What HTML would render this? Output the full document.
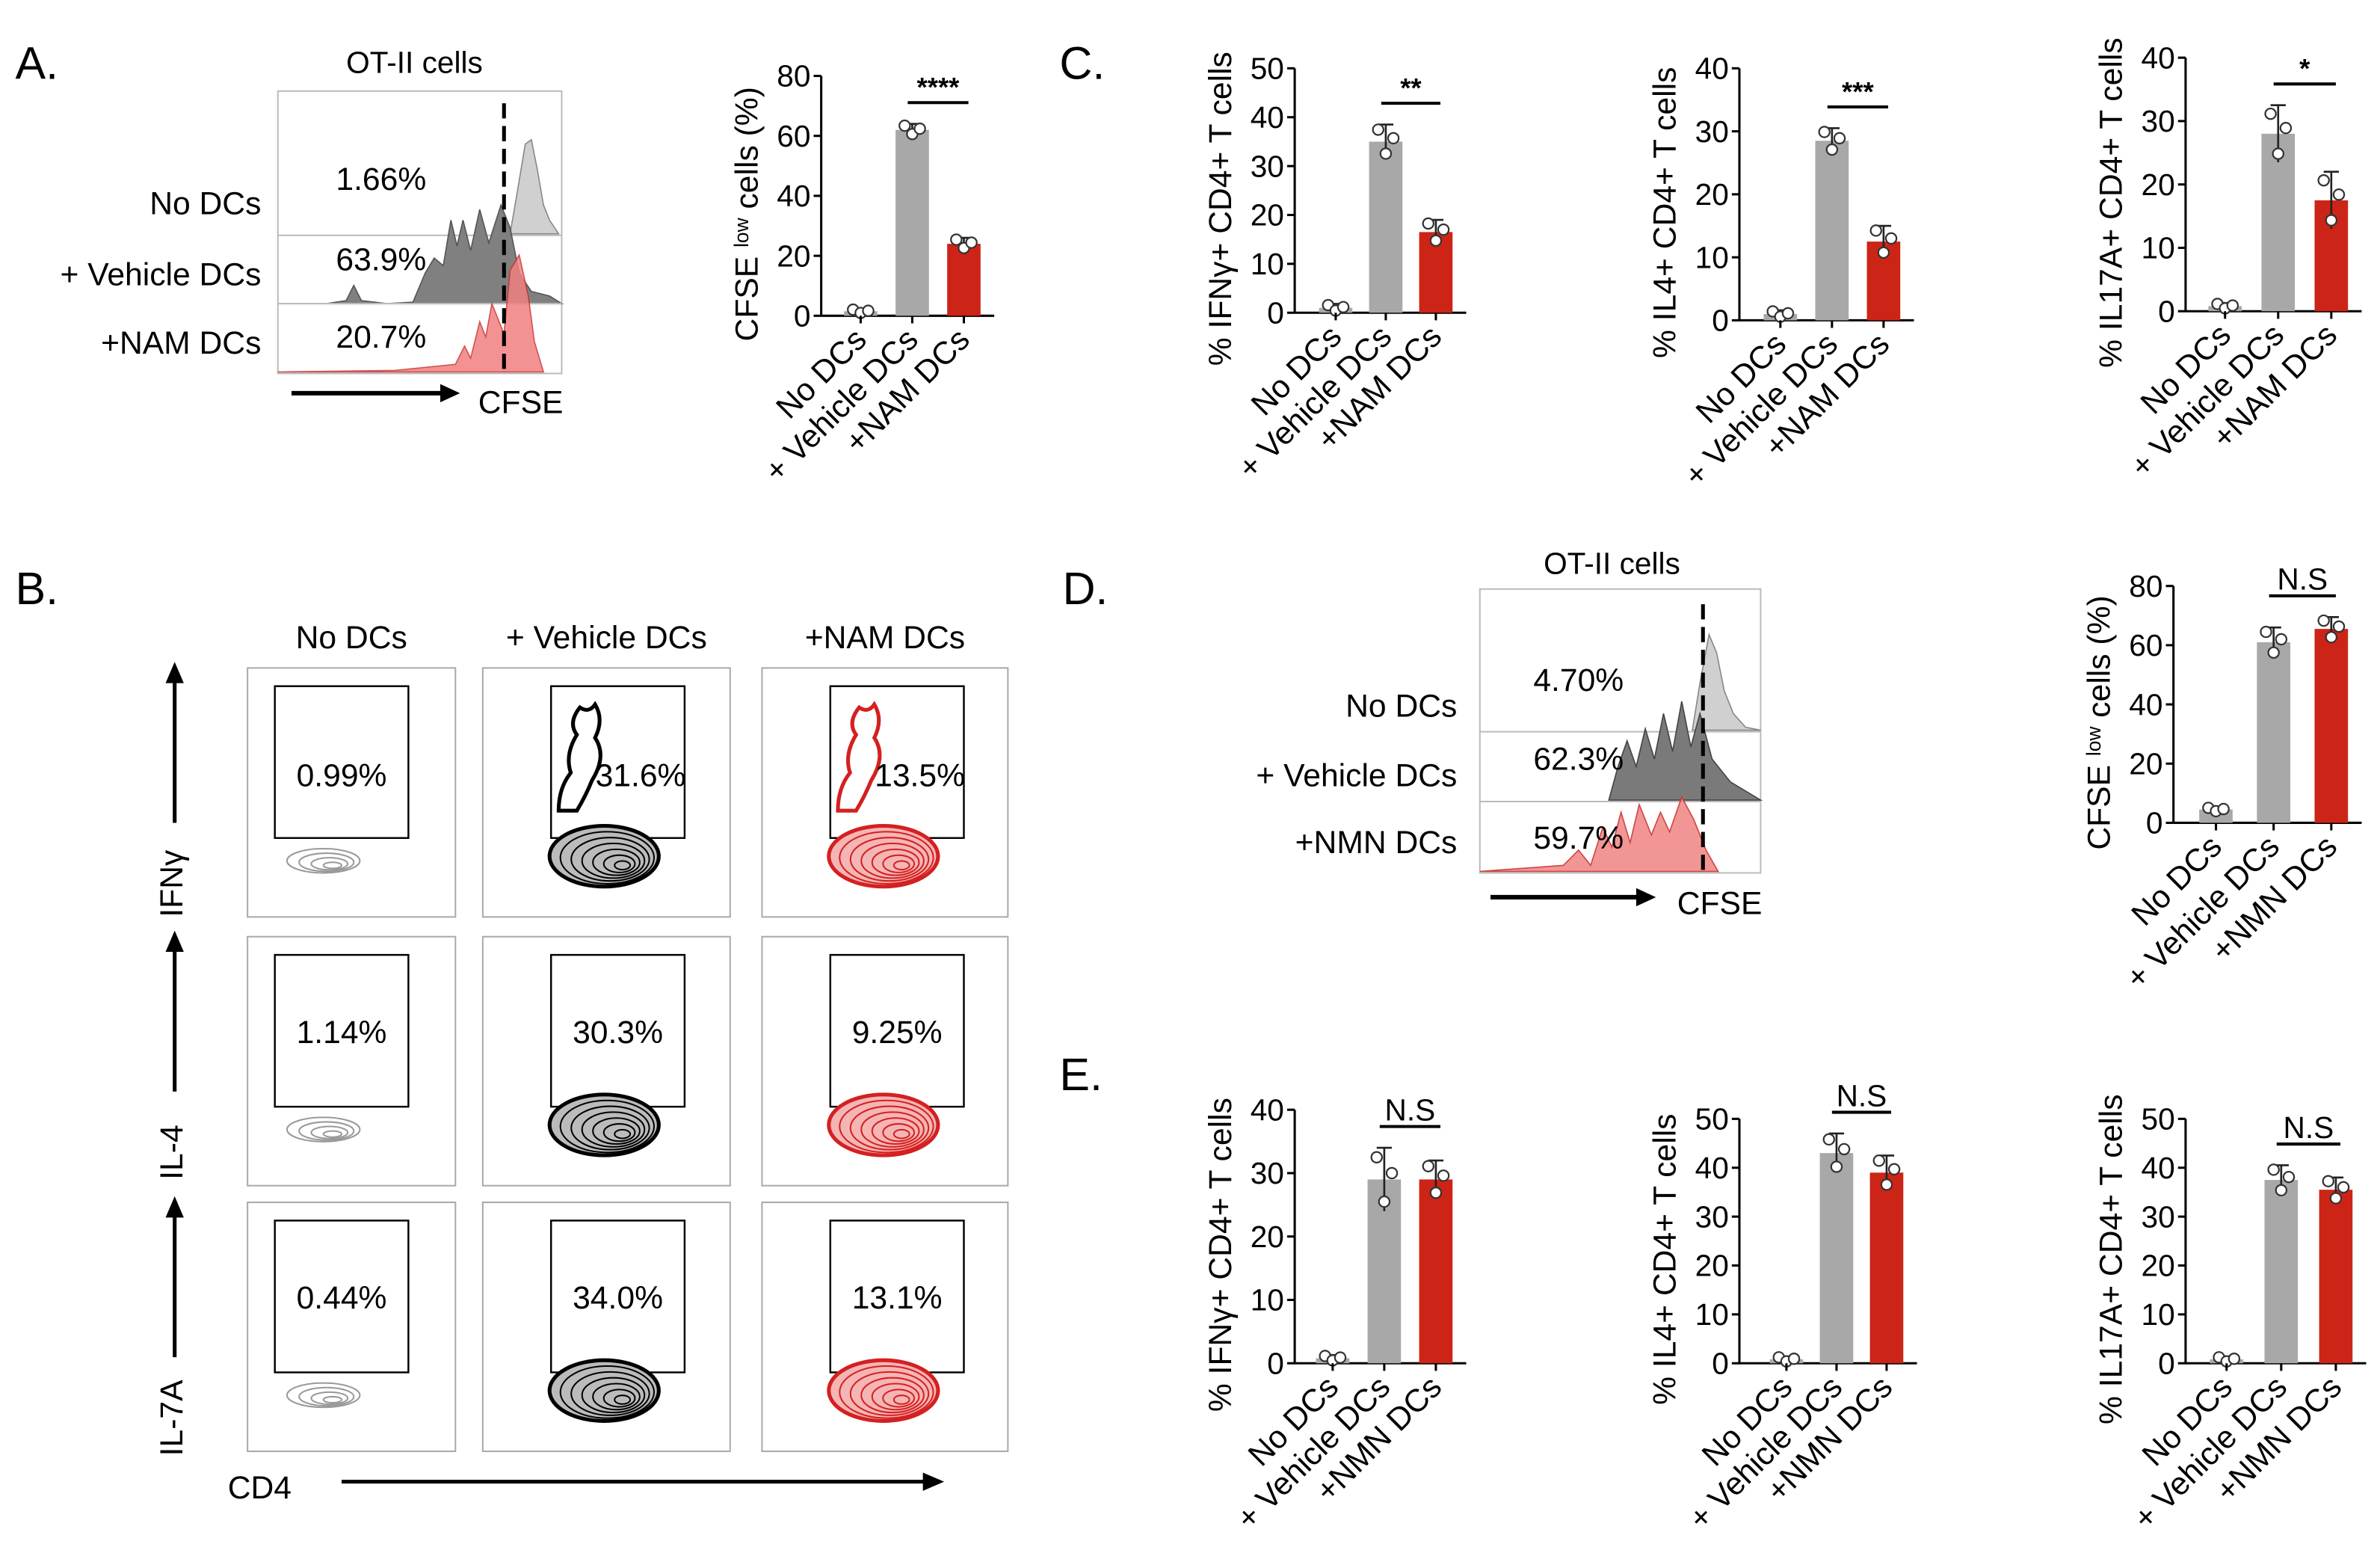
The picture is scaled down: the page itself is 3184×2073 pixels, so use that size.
<!DOCTYPE html>
<html><head><meta charset="utf-8"><style>
html,body{margin:0;padding:0;background:#fff;}
svg{display:block;font-family:"Liberation Sans",Arial,sans-serif;}
</style></head><body>
<svg id="fig" width="3184" height="2073" viewBox="0 0 1568 1021" xmlns="http://www.w3.org/2000/svg">
<rect width="1568" height="1021" fill="#fff"/>
<text x="10" y="52" font-size="30">A.</text>
<text x="10" y="398" font-size="30">B.</text>
<text x="698" y="52" font-size="30">C.</text>
<text x="700" y="398" font-size="30">D.</text>
<text x="698" y="718" font-size="30">E.</text>

<g>
<text x="273" y="48" font-size="20" text-anchor="middle">OT-II cells</text>
<rect x="183" y="60" width="187" height="186" fill="none" stroke="#bbb" stroke-width="1"/>
<path d="M336,154 L341,125 L346,95 L350,92 L354,112 L358,135 L362,145 L368,154 Z" fill="#d0d0d0" stroke="#888" stroke-width="0.8"/>
<line x1="183" y1="155" x2="370" y2="155" stroke="#bbb"/>
<path d="M215,200 L228,198 L233,188 L238,198 L255,200 L272,199 L280,180 L286,170 L292,175 L297,145 L301,162 L305,145 L310,165 L316,138 L322,160 L330,135 L336,150 L342,180 L350,192 L362,195 L370,200 Z" fill="#808080" stroke="#555" stroke-width="0.8"/>
<line x1="183" y1="200" x2="370" y2="200" stroke="#bbb"/>
<path d="M183,245 L260,244 L300,240 L306,228 L310,236 L316,212 L320,222 L324,200 L332,220 L336,178 L342,168 L348,195 L352,225 L358,245 Z" fill="#f08080" stroke="#c33" stroke-width="0.8" opacity="0.85"/>
<line x1="332" y1="68" x2="332" y2="246" stroke="#000" stroke-width="2.5" stroke-dasharray="10,5"/>
<text x="172" y="141" font-size="21" text-anchor="end">No DCs</text>
<text x="172" y="188" font-size="21" text-anchor="end">+ Vehicle DCs</text>
<text x="172" y="233" font-size="21" text-anchor="end">+NAM DCs</text>
<text x="251" y="125" font-size="21" text-anchor="middle">1.66%</text>
<text x="251" y="178" font-size="21" text-anchor="middle">63.9%</text>
<text x="251" y="229" font-size="21" text-anchor="middle">20.7%</text>
<line x1="192" y1="259" x2="292" y2="259" stroke="#000" stroke-width="3"/>
<polygon points="290,253 303,259 290,265" fill="#000"/>
<text x="315" y="272" font-size="21">CFSE</text>
</g>

<g>
<text x="1062" y="378" font-size="20" text-anchor="middle">OT-II cells</text>
<rect x="975" y="388" width="185" height="187" fill="none" stroke="#bbb"/>
<path d="M1115,481 L1120,450 L1126,418 L1131,430 L1136,455 L1142,470 L1150,479 L1160,481 Z" fill="#d0d0d0" stroke="#888" stroke-width="0.8"/>
<line x1="975" y1="482" x2="1160" y2="482" stroke="#bbb"/>
<path d="M1060,527 L1066,505 L1072,488 L1078,505 L1084,480 L1090,500 L1096,470 L1102,495 L1108,462 L1114,492 L1120,470 L1128,500 L1140,515 L1160,527 Z" fill="#7a7a7a" stroke="#444" stroke-width="0.8"/>
<line x1="975" y1="528" x2="1160" y2="528" stroke="#bbb"/>
<path d="M975,574 L1030,570 L1040,560 L1048,570 L1056,545 L1062,558 L1068,535 L1074,555 L1080,530 L1088,550 L1094,535 L1100,548 L1108,525 L1116,540 L1124,560 L1132,574 Z" fill="#f08a8a" stroke="#c33" stroke-width="0.8" opacity="0.9"/>
<line x1="1122" y1="398" x2="1122" y2="575" stroke="#000" stroke-width="2.5" stroke-dasharray="10,5"/>
<text x="960" y="472" font-size="21" text-anchor="end">No DCs</text>
<text x="960" y="518" font-size="21" text-anchor="end">+ Vehicle DCs</text>
<text x="960" y="562" font-size="21" text-anchor="end">+NMN DCs</text>
<text x="1040" y="455" font-size="21" text-anchor="middle">4.70%</text>
<text x="1040" y="507" font-size="21" text-anchor="middle">62.3%</text>
<text x="1040" y="559" font-size="21" text-anchor="middle">59.7%</text>
<line x1="982" y1="591" x2="1080" y2="591" stroke="#000" stroke-width="3"/>
<polygon points="1078,585 1091,591 1078,597" fill="#000"/>
<text x="1105" y="602" font-size="21">CFSE</text>
</g>

<g id="flow"></g>
<g id="bars"></g>
</svg>
<script>
const cats1 = ["No DCs", "+ Vehicle DCs", "+NAM DCs"];
const cats2 = ["No DCs", "+ Vehicle DCs", "+NMN DCs"];
const aValues = [1.5, 62, 24];
const aErrors = [0.8, 2, 2];
const c1Values = [1, 35, 16.5];
const c1Errors = [0.8, 3.5, 2.5];
const c2Values = [1, 28.5, 12.5];
const c2Errors = [0.6, 2, 2.5];
const c3Values = [0.8, 28, 17.5];
const c3Errors = [0.5, 4.5, 4.5];
const dValues = [4.5, 61, 65.5];
const dErrors = [0.8, 5, 4];
const e1Values = [0.8, 29, 29];
const e1Errors = [0.5, 5, 3];
const e2Values = [0.8, 43, 39];
const e2Errors = [0.6, 4, 3.5];
const e3Values = [0.8, 37.5, 35.5];
const e3Errors = [0.6, 3, 2.5];
const ticks80 = [0, 20, 40, 60, 80];
const ticks50 = [0, 10, 20, 30, 40, 50];
const ticks40 = [0, 10, 20, 30, 40];

const NS = "http://www.w3.org/2000/svg";
function mk(tag, attrs, parent) {
  const e = document.createElementNS(NS, tag);
  for (const k in attrs) e.setAttribute(k, attrs[k]);
  parent.appendChild(e);
  return e;
}
const colors = ["#a8a8a8", "#a8a8a8", "#cc2417"];
function chart(name, ax, yTop, yBot, ticks, cats, vals, errs, title, sig, cx0, step) {
  const g = mk("g", {}, document.getElementById("bars"));
  
  
  const max = ticks[ticks.length - 1];
  const y = v => yBot - (v / max) * (yBot - yTop);
  const x = i => cx0 + i * step;
  mk("line", {x1: ax, y1: yTop, x2: ax, y2: yBot, stroke: "#000", "stroke-width": 1.5}, g);
  mk("line", {x1: ax, y1: yBot, x2: x(2) + 20, y2: yBot, stroke: "#000", "stroke-width": 1.5}, g);
  ticks.forEach(t => {
    mk("line", {x1: ax - 5, y1: y(t), x2: ax, y2: y(t), stroke: "#000", "stroke-width": 1.5}, g);
    const tt = mk("text", {x: ax - 7, y: y(t) + 7, "font-size": 20, "text-anchor": "end"}, g);
    tt.textContent = t;
  });
  vals.forEach((v, i) => {
    const b = mk("rect", {x: x(i) - 11, y: y(v), width: 22, height: yBot - y(v), fill: colors[i]}, g);
    
    
    const e = errs[i];
    mk("line", {x1: x(i), y1: y(v + e), x2: x(i), y2: y(v - e), stroke: "#222", "stroke-width": 1.3}, g);
    mk("line", {x1: x(i) - 5, y1: y(v + e), x2: x(i) + 5, y2: y(v + e), stroke: "#222", "stroke-width": 1.3}, g);
    [[-5, 0.7], [0, -0.7], [5, 0.2]].forEach(d => {
      mk("circle", {cx: x(i) + d[0], cy: y(v + d[1] * e), r: 3.5, fill: "#fff", stroke: "#333", "stroke-width": 1.1}, g);
    });
    mk("line", {x1: x(i), y1: yBot, x2: x(i), y2: yBot + 5, stroke: "#000", "stroke-width": 1.5}, g);
    const lt = mk("text", {x: x(i) + 5, y: yBot + 17, "font-size": 21, "text-anchor": "end", transform: `rotate(-45 ${x(i) + 5} ${yBot + 17})`}, g);
    lt.textContent = cats[i];
    
    
  });
  const sy = y(Math.max(vals[1] + errs[1], vals[2] + errs[2])) - 14;
  mk("line", {x1: x(1) - 3, y1: sy, x2: x(2) + 3, y2: sy, stroke: "#000", "stroke-width": 2}, g);
  const st = mk("text", {x: (x(1) + x(2)) / 2, y: sy - 4, "font-size": sig === "N.S" ? 20 : 18, "text-anchor": "middle", "font-weight": sig === "N.S" ? "normal" : "bold"}, g);
  st.textContent = sig;
  
  
  const ty = (yTop + yBot) / 2 + 12, tx = ax - 42;
  const tt = mk("text", {x: tx, y: ty, "font-size": 21, "text-anchor": "middle", transform: `rotate(-90 ${tx} ${ty})`}, g);
  tt.innerHTML = title;
  
  
}
const cfseT = 'CFSE <tspan font-size="13" dy="-6">low</tspan><tspan dy="6"> cells (%)</tspan>';
chart("bar-chart-a", 541, 50, 208, ticks80, cats1, aValues, aErrors, cfseT, "****", 567, 34);
chart("bar-chart-c-ifng", 853, 45, 206, ticks50, cats1, c1Values, c1Errors, "% IFNγ+ CD4+ T cells", "**", 880, 33);
chart("bar-chart-c-il4", 1146, 45, 211, ticks40, cats1, c2Values, c2Errors, "% IL4+ CD4+ T cells", "***", 1173, 34);
chart("bar-chart-c-il17a", 1440, 38, 205, ticks40, cats1, c3Values, c3Errors, "% IL17A+ CD4+ T cells", "*", 1466, 35);
chart("bar-chart-d", 1432, 386, 542, ticks80, cats2, dValues, dErrors, cfseT, "N.S", 1460, 38);
chart("bar-chart-e-ifng", 853, 731, 898, ticks40, cats2, e1Values, e1Errors, "% IFNγ+ CD4+ T cells", "N.S", 878, 34);
chart("bar-chart-e-il4", 1146, 737, 898, ticks50, cats2, e2Values, e2Errors, "% IL4+ CD4+ T cells", "N.S", 1177, 33);
chart("bar-chart-e-il17a", 1440, 737, 898, ticks50, cats2, e3Values, e3Errors, "% IL17A+ CD4+ T cells", "N.S", 1467, 36);

const flowPct = [["0.99%", "31.6%", "13.5%"], ["1.14%", "30.3%", "9.25%"], ["0.44%", "34.0%", "13.1%"]];
const colHeads = ["No DCs", "+ Vehicle DCs", "+NAM DCs"];
const rowLabels = ["IFNγ", "IL-4", "IL-7A"];
const fg = document.getElementById("flow");
const colX = [163, 318, 502], colW = [137, 163, 162];
const rowY = [440, 617, 792], rowH = 164;
colHeads.forEach((h, c) => {
  const t = mk("text", {x: colX[c] + colW[c] / 2, y: 427, "font-size": 21, "text-anchor": "middle"}, fg);
  t.textContent = h;
  
  
});
rowLabels.forEach((l, r) => {
  const cy = rowY[r] + rowH / 2;
  mk("line", {x1: 115, y1: cy + 20, x2: 115, y2: cy - 75, stroke: "#000", "stroke-width": 2.5}, fg);
  mk("polygon", {points: `109,${cy - 72} 115,${cy - 86} 121,${cy - 72}`, fill: "#000"}, fg);
  const t = mk("text", {x: 120, y: cy + 60, "font-size": 21, "text-anchor": "middle", transform: `rotate(-90 120 ${cy + 60})`}, fg);
  t.textContent = l;
  
  
  for (let c = 0; c < 3; c++) {
    const x0 = colX[c], y0 = rowY[r], w = colW[c];
    mk("rect", {x: x0, y: y0, width: w, height: rowH, fill: "none", stroke: "#aaa", "stroke-width": 1}, fg);
    const gx = x0 + (c === 0 ? 18 : 45), gw = 88;
    mk("rect", {x: gx, y: y0 + 12, width: gw, height: 100, fill: "none", stroke: "#000", "stroke-width": 1.2}, fg);
    const cx = x0 + (c === 0 ? 50 : 80), cyc = y0 + (c === 0 ? 127 : 124);
    const col = c === 0 ? "#999" : (c === 1 ? "#000" : "#d42020");
    const n = c === 0 ? 4 : 7;
    const rx0 = c === 0 ? 24 : 36, ry0 = c === 0 ? 8 : 20;
    for (let k = 0; k < n; k++) {
      const f = 1 - k / n;
      mk("ellipse", {cx: cx + 2 * k, cy: cyc + k, rx: rx0 * f, ry: ry0 * f, fill: c === 0 ? "none" : (k === 0 ? (c === 1 ? "#bbb" : "#f5b5b5") : "none"), stroke: col, "stroke-width": k === 0 && c > 0 ? 2.5 : 1}, fg);
    }
    if (r === 0 && c > 0) {
      mk("path", {d: `M${cx - 30},${cyc - 30} q0,-15 8,-25 q-4,-12 4,-25 q-6,-8 2,-18 q6,4 10,-2 q6,10 0,22 q8,12 -2,28 q-4,10 -10,20 z`, fill: "none", stroke: col, "stroke-width": 2.5}, fg);
    }
    const pt = mk("text", {x: gx + gw / 2 + (r === 0 && c > 0 ? 15 : 0), y: y0 + (r === 0 ? 78 : 70), "font-size": 21, "text-anchor": "middle"}, fg);
    pt.textContent = flowPct[r][c];
    
    
  }
});
const cd = mk("text", {x: 150, y: 987, "font-size": 21}, fg);
cd.textContent = "CD4";


mk("line", {x1: 225, y1: 976, x2: 610, y2: 976, stroke: "#000", "stroke-width": 2.5}, fg);
mk("polygon", {points: "608,970 622,976 608,982", fill: "#000"}, fg);
</script>
</body></html>
